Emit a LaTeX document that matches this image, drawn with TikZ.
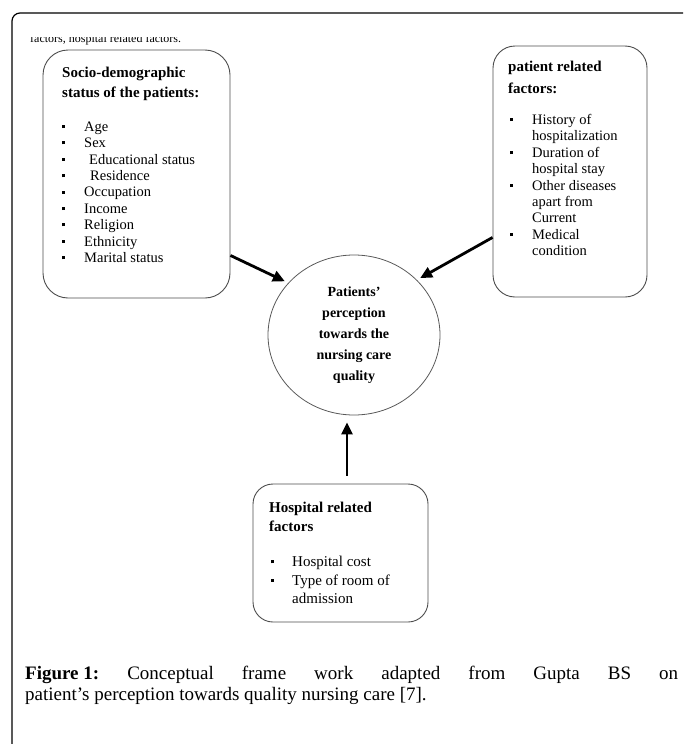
\documentclass[tikz,border=0pt]{standalone}
\usepackage{fontspec}
\setmainfont{Liberation Serif}
\usetikzlibrary{shapes.geometric,arrows.meta}

% small square bullet in a box of given width
\newcommand\bul[1]{\makebox[#1][l]{\rule[0.22em]{3pt}{3pt}}}

\begin{document}
\frenchspacing
\begin{tikzpicture}[x=1pt,y=-1pt,
  factor box/.style={draw=black!70,line width=0.9pt,rounded corners=22pt,inner sep=0pt},
  head text/.style={anchor=north west,inner sep=0pt,align=left,font=\bfseries\fontsize{15}{20}\selectfont},
  item text/.style={anchor=north west,inner sep=0pt,align=left,font=\fontsize{14.5}{16.4}\selectfont},
  arr/.style={-{Triangle[length=12pt,width=11pt]},line width=2.8pt}]

  \useasboundingbox (0,0) rectangle (683,744);
  \clip (0,0) rectangle (683,744);

  % frame
  \draw[line width=1.2pt,rounded corners=8pt] (12,13) rectangle (700,765);
  \begin{scope}
    \clip (0,37) rectangle (683,50);
    \node[anchor=base west,inner sep=0pt,font=\fontsize{12}{13}\selectfont] (cut) at (30,42.5) {factors, hospital related factors.};
  \end{scope}

  % boxes
  \node[factor box,rounded corners=25pt,minimum width=187pt,minimum height=248pt] (sdbox) at (136.5,174) {};
  \node[factor box,minimum width=154pt,minimum height=251pt] (prbox) at (570,171.5) {};
  \node[factor box,rounded corners=20pt,minimum width=175pt,minimum height=138pt] (hrbox) at (340.5,553) {};
  \node[ellipse,draw=black!65,line width=0.8pt,minimum width=172pt,minimum height=160pt,inner sep=0pt,
        align=center,font=\bfseries\fontsize{14}{21}\selectfont] (percep) at (354,335)
        {Patients'\\perception\\towards the\\nursing care\\quality};

  % socio-demographic
  \node[head text] (sdhead) at (62,67) {Socio-demographic\\status of the patients:};
  \node[item text] (sdlist) at (62,121.5) {\bul{22pt}Age\\ \bul{22pt}Sex\\ \bul{22pt}\hspace{5pt}Educational status\\
    \bul{22pt}\hspace{6pt}Residence\\ \bul{22pt}Occupation\\ \bul{22pt}Income\\ \bul{22pt}Religion\\
    \bul{22pt}Ethnicity\\ \bul{22pt}Marital status};

  % patient related
  \node[head text,font=\bfseries\fontsize{15}{22}\selectfont] (prhead) at (508,61) {patient related\\factors:};
  \node[item text] (prlist) at (510,114) {\bul{22pt}History of\\ \hspace*{22pt}hospitalization\\
    \bul{22pt}Duration of\\ \hspace*{22pt}hospital stay\\ \bul{22pt}Other diseases\\
    \hspace*{22pt}apart from\\ \hspace*{22pt}Current\\ \bul{22pt}Medical\\ \hspace*{22pt}condition};

  % hospital related
  \node[head text,font=\bfseries\fontsize{15}{19}\selectfont] (hrhead) at (269,502) {Hospital related\\factors};
  \node[item text,font=\fontsize{15}{18.5}\selectfont] (hrlist) at (271,556) {\bul{21pt}Hospital cost\\
    \bul{21pt}Type of room of\\ \hspace*{21pt}admission};

  % arrows
  \draw[arr] ([yshift=43pt]sdbox.south east) -- ([xshift=-3pt,yshift=2pt]percep.142);
  \draw[arr] ([yshift=60pt]prbox.south west) -- ([xshift=3pt,yshift=2pt]percep.41);
  \draw[arr] ([xshift=6.5pt,yshift=8pt]hrbox.north) -- ([xshift=-7pt,yshift=-7pt]percep.south);

  % caption
  \node[anchor=north west,inner sep=0pt,text width=653pt,align=justify,font=\fontsize{19}{21}\selectfont] (cap) at (25,666)
    {\textbf{Figure\hspace{0.25em}1:} Conceptual frame work adapted from Gupta BS on\linebreak patient’s perception towards quality nursing care [7].};
\end{tikzpicture}
\end{document}
